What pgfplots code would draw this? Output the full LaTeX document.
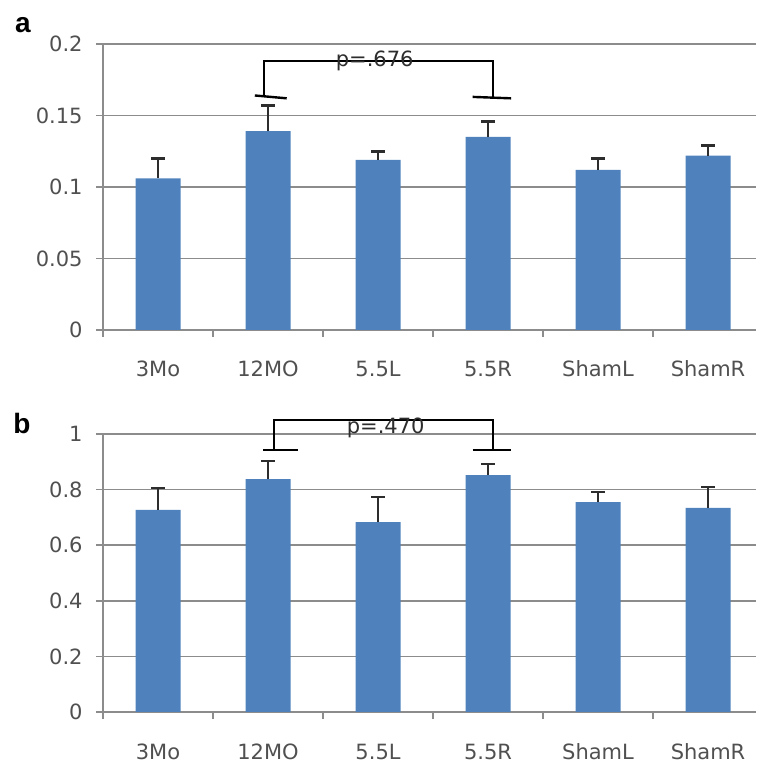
\documentclass[border=0pt]{standalone}
\usepackage{fontspec}
\setmainfont{DejaVu Sans}
\newfontfamily\panelfont{Liberation Sans}
\usepackage{pgfplots}
\pgfplotsset{compat=1.18}

\definecolor{barblue}{RGB}{79,129,189}
\definecolor{gridgray}{RGB}{140,140,140}
\definecolor{labgray}{RGB}{80,80,80}
\definecolor{errgray}{RGB}{45,45,45}

\pgfplotsset{
  excelbars/.style={
    scale only axis,
    width=326.5pt,
    xmin=-0.5, xmax=5.436,
    ymin=0,
    axis x line*=bottom,
    axis y line*=left,
    axis line style={gridgray, line width=0.8pt},
    ymajorgrids=true,
    grid style={gridgray, line width=0.8pt},
    tick align=outside,
    major tick length=3.5pt,
    ytick style={gridgray, line width=0.8pt},
    xtick={0,...,5},
    xtick style={draw=none},
    xticklabels={3Mo,12MO,5.5L,5.5R,ShamL,ShamR},
    extra x ticks={-0.5,0.5,1.5,2.5,3.5,4.5},
    extra x tick labels={},
    extra x tick style={xtick style={draw=gridgray, line width=0.8pt}},
    tick label style={font=\fontsize{10.5}{12}\selectfont, text=labgray},
    xticklabel style={anchor=base, yshift=-20pt},
    yticklabel style={anchor=east, inner sep=0pt, xshift=-6.5pt},
    /pgf/number format/assume math mode=true,
    clip=false,
    ybar,
    bar width=22.5pt,
  },
  barstyle/.style={
    fill=barblue, draw=none,
    error bars/.cd,
      y dir=plus, y explicit,
      error bar style={errgray, line width=1.1pt},
      error mark options={errgray, line width=1.3pt, mark size=3.3pt, rotate=90},
  },
}

\begin{document}
\begin{tikzpicture}
\useasboundingbox (0,0) rectangle (378pt,382pt);

% panel a
\begin{axis}[excelbars,
  at={(51.5pt,217pt)}, anchor=south west,
  height=143pt, ymax=0.2,
  ytick={0,0.05,0.1,0.15,0.2},
  yticklabels={0,0.05,0.1,0.15,0.2},
]
\addplot+[barstyle] coordinates {
  (0,0.106) +- (0,0.014)
  (1,0.139) +- (0,0.018)
  (2,0.119) +- (0,0.006)
  (3,0.135) +- (0,0.011)
  (4,0.112) +- (0,0.008)
  (5,0.122) +- (0,0.007)
};
\draw[black, line width=1pt] (axis cs:0.964,0.163) -- (axis cs:0.964,0.188)
  -- (axis cs:3.045,0.188) -- (axis cs:3.045,0.163);
\draw[black, line width=1.2pt] (axis cs:0.88,0.164) -- (axis cs:1.17,0.162);
\draw[black, line width=1.2pt] (axis cs:2.86,0.163) -- (axis cs:3.21,0.162);
\node[text=errgray, font=\fontsize{10.5}{12}\selectfont] at (axis cs:1.97,0.188) {p=.676};
\end{axis}

% panel b
\begin{axis}[excelbars,
  at={(51.5pt,26pt)}, anchor=south west,
  height=139pt, ymax=1,
  ytick={0,0.2,0.4,0.6,0.8,1},
  yticklabels={0,0.2,0.4,0.6,0.8,1},
]
\addplot+[barstyle] coordinates {
  (0,0.727) +- (0,0.079)
  (1,0.838) +- (0,0.065)
  (2,0.683) +- (0,0.090)
  (3,0.852) +- (0,0.040)
  (4,0.755) +- (0,0.036)
  (5,0.734) +- (0,0.075)
};
\draw[black, line width=1pt] (axis cs:1.055,0.942) -- (axis cs:1.055,1.05)
  -- (axis cs:3.045,1.05) -- (axis cs:3.045,0.942);
\draw[black, line width=1.2pt] (axis cs:0.955,0.942) -- (axis cs:1.27,0.942);
\draw[black, line width=1.2pt] (axis cs:2.86,0.942) -- (axis cs:3.21,0.942);
\node[text=errgray, font=\fontsize{10.5}{12}\selectfont] at (axis cs:2.07,1.022) {p=.470};
\end{axis}

\node[font=\panelfont\bfseries\fontsize{14}{16}\selectfont] at (11.5pt,369.5pt) {a};
\node[font=\panelfont\bfseries\fontsize{14}{16}\selectfont] at (11pt,170.5pt) {b};
\end{tikzpicture}
\end{document}
